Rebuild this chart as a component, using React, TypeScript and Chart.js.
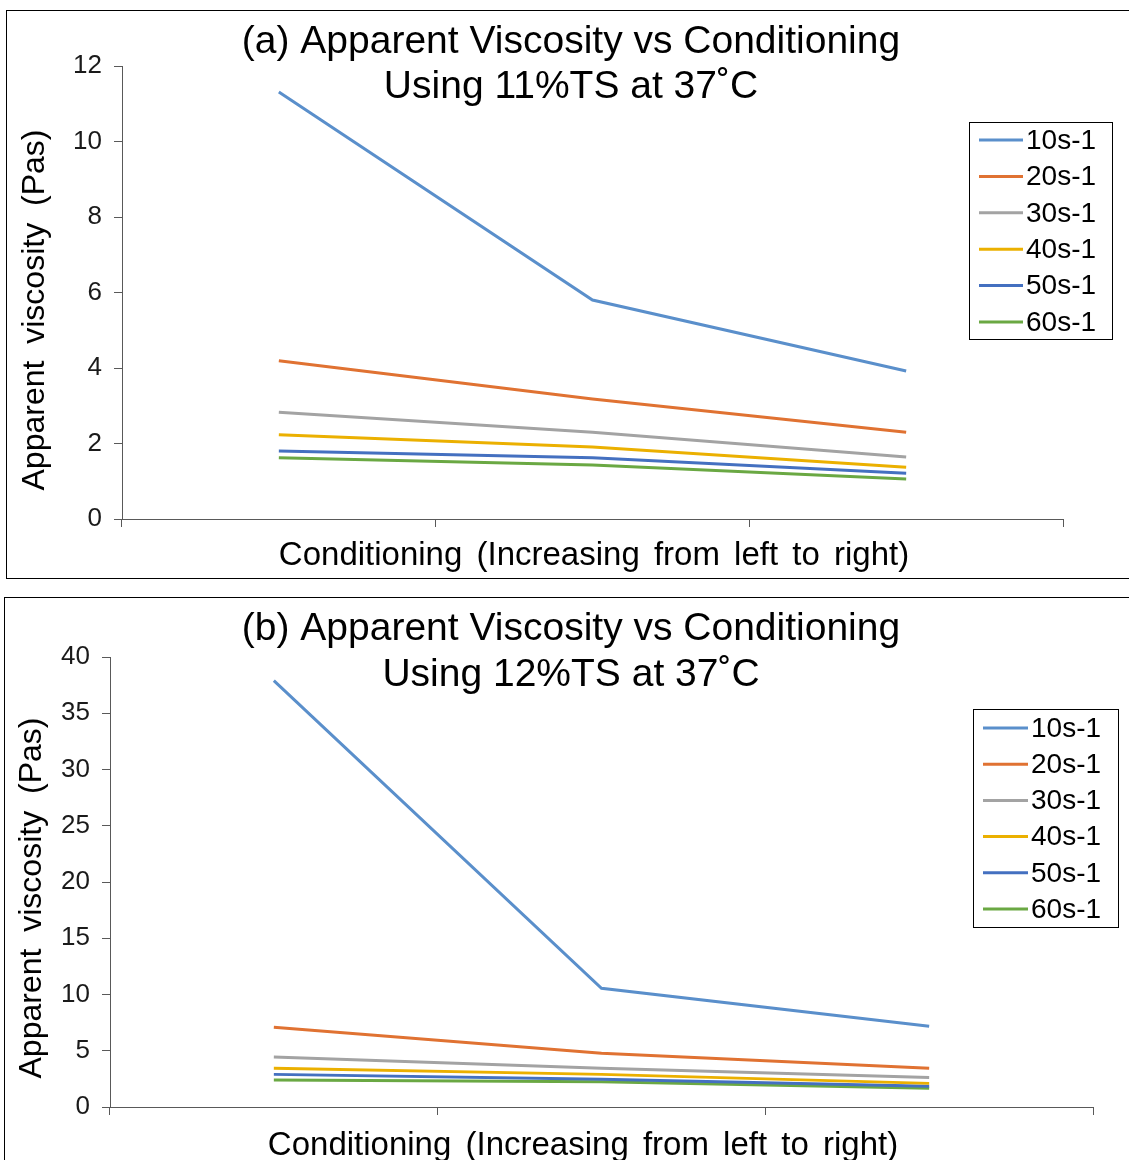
import { useEffect, useRef } from 'react';
import { Chart, registerables } from 'chart.js';

Chart.register(...registerables);

const FONT = '"Liberation Sans", Arial, "DejaVu Sans", sans-serif';

// ---- data ----
const conditioningStages = ['Stage 1', 'Stage 2', 'Stage 3'];
const shearRateLabels = ['10s-1', '20s-1', '30s-1', '40s-1', '50s-1', '60s-1'];
const seriesColors = ['#5A8FCB', '#E07232', '#A3A3A3', '#EBB000', '#4470C0', '#6AA843'];

// (a) 11% TS at 37°C
const ts11_10s = [11.31, 5.8, 3.92];
const ts11_20s = [4.19, 3.18, 2.3];
const ts11_30s = [2.83, 2.3, 1.64];
const ts11_40s = [2.23, 1.91, 1.37];
const ts11_50s = [1.8, 1.62, 1.21];
const ts11_60s = [1.62, 1.43, 1.06];

// (b) 12% TS at 37°C
const ts12_10s = [37.9, 10.55, 7.17];
const ts12_20s = [7.08, 4.77, 3.44];
const ts12_30s = [4.45, 3.44, 2.63];
const ts12_40s = [3.44, 2.9, 2.1];
const ts12_50s = [2.9, 2.46, 1.84];
const ts12_60s = [2.4, 2.25, 1.66];

const yTickValuesA = [0, 2, 4, 6, 8, 10, 12];
const yTickValuesB = [0, 5, 10, 15, 20, 25, 30, 35, 40];

const titleA = ['(a) Apparent Viscosity vs Conditioning', 'Using 11%TS at 37˚C'];
const titleB = ['(b) Apparent Viscosity vs Conditioning', 'Using 12%TS at 37˚C'];
const yAxisTitle = 'Apparent viscosity (Pas)';
const xAxisTitle = 'Conditioning (Increasing from left to right)';

// ---- layout specs ----
type PanelSpec = {
  title: string[];
  series: number[][];
  ticks: number[];
  box: { left: number; top: number; width: number; height: number };
  area: { left: number; top: number; right: number; bottom: number };
  titleX: number;
  titleY: number[];
  xTitleX: number;
  xTitleY: number;
  yTitleX: number;
  yTitleY: number;
  legend: { x: number; y: number; w: number; h: number; row0: number; rowStep: number; lineX0: number; lineX1: number; textX: number };
};

const panelA: PanelSpec = {
  title: titleA,
  series: [ts11_10s, ts11_20s, ts11_30s, ts11_40s, ts11_50s, ts11_60s],
  ticks: yTickValuesA,
  box: { left: 6, top: 10, width: 1125, height: 569 },
  area: { left: 115, top: 55, right: 1056, bottom: 508 },
  titleX: 564,
  titleY: [42, 87],
  xTitleX: 587,
  xTitleY: 554,
  yTitleX: 28,
  yTitleY: 299,
  legend: { x: 962.5, y: 111.5, w: 143, h: 217, row0: 129, rowStep: 36.4, lineX0: 972, lineX1: 1016, textX: 1019 },
};

const panelB: PanelSpec = {
  title: titleB,
  series: [ts12_10s, ts12_20s, ts12_30s, ts12_40s, ts12_50s, ts12_60s],
  ticks: yTickValuesB,
  box: { left: 4, top: 597, width: 1127, height: 569 },
  area: { left: 105, top: 59, right: 1088, bottom: 509 },
  titleX: 566,
  titleY: [42, 88],
  xTitleX: 578,
  xTitleY: 557,
  yTitleX: 27,
  yTitleY: 300,
  legend: { x: 968.5, y: 111.5, w: 145, h: 218, row0: 130, rowStep: 36.2, lineX0: 978, lineX1: 1023, textX: 1026 },
};

const AXIS_COLOR = '#595959';

function makeDecor(spec: PanelSpec) {
  return {
    id: 'panelDecor',
    afterDraw(chart: any) {
      const ctx: any = chart.ctx;
      ctx.save();
      ctx.fillStyle = '#000';
      // main title
      ctx.font = `39px ${FONT}`;
      ctx.textAlign = 'center';
      ctx.textBaseline = 'alphabetic';
      spec.title.forEach((t, i) => ctx.fillText(t, spec.titleX, spec.titleY[i]));
      // x axis title
      ctx.font = `33px ${FONT}`;
      ctx.wordSpacing = '5px';
      ctx.fillText(xAxisTitle, spec.xTitleX, spec.xTitleY);
      // y axis title
      ctx.save();
      ctx.translate(spec.yTitleX, spec.yTitleY);
      ctx.rotate(-Math.PI / 2);
      ctx.textBaseline = 'middle';
      ctx.font = `32px ${FONT}`;
      ctx.wordSpacing = '8px';
      ctx.fillText(yAxisTitle, 0, 0);
      ctx.restore();
      ctx.wordSpacing = '0px';
      // legend
      const lg = spec.legend;
      ctx.fillStyle = '#fff';
      ctx.fillRect(lg.x, lg.y, lg.w, lg.h);
      ctx.strokeStyle = '#000';
      ctx.lineWidth = 1;
      ctx.strokeRect(lg.x, lg.y, lg.w, lg.h);
      ctx.font = `28px ${FONT}`;
      ctx.textAlign = 'left';
      ctx.textBaseline = 'middle';
      chart.data.datasets.forEach((ds: any, i: number) => {
        const y = lg.row0 + i * lg.rowStep;
        ctx.strokeStyle = ds.borderColor;
        ctx.lineWidth = 3;
        ctx.beginPath();
        ctx.moveTo(lg.lineX0, y);
        ctx.lineTo(lg.lineX1, y);
        ctx.stroke();
        ctx.fillStyle = '#000';
        ctx.fillText(ds.label, lg.textX, y + 1);
      });
      ctx.restore();
    },
  };
}

function Panel({ spec }: { spec: PanelSpec }) {
  const ref = useRef<HTMLCanvasElement>(null);
  const cw = spec.box.width - 2;
  const ch = spec.box.height - 2;
  useEffect(() => {
    if (!ref.current) return;
    const a = spec.area;
    const chart = new Chart(ref.current, {
      type: 'line',
      data: {
        labels: conditioningStages,
        datasets: shearRateLabels.map((label, i) => ({
          label,
          data: spec.series[i],
          borderColor: seriesColors[i],
          backgroundColor: seriesColors[i],
          borderWidth: 3,
          pointRadius: 0,
          pointHoverRadius: 0,
          tension: 0,
          fill: false,
        })),
      },
      options: {
        animation: false,
        responsive: false,
        devicePixelRatio: 1,
        events: [],
        layout: { padding: { left: 0, top: a.top, right: cw - a.right, bottom: 0 } },
        plugins: { legend: { display: false }, title: { display: false }, tooltip: { enabled: false } },
        scales: {
          x: {
            type: 'category',
            offset: true,
            grid: { display: true, drawOnChartArea: false, drawTicks: true, tickLength: 8, offset: true, color: AXIS_COLOR, lineWidth: 1 },
            border: { display: true, color: AXIS_COLOR, width: 1 },
            ticks: { display: false },
            afterFit: (scale: any) => {
              scale.height = ch - a.bottom;
            },
          },
          y: {
            type: 'linear',
            min: spec.ticks[0],
            max: spec.ticks[spec.ticks.length - 1],
            afterBuildTicks: (scale: any) => {
              scale.ticks = spec.ticks.map((v) => ({ value: v }));
            },
            grid: { display: true, drawOnChartArea: false, drawTicks: true, tickLength: 8, color: AXIS_COLOR, lineWidth: 1 },
            border: { display: true, color: AXIS_COLOR, width: 1 },
            ticks: { color: '#1a1a1a', font: { family: FONT, size: 26 }, padding: 12 },
            afterFit: (scale: any) => {
              scale.width = a.left;
            },
          },
        },
      },
      plugins: [makeDecor(spec)],
    } as any);
    return () => chart.destroy();
  }, []);
  return (
    <div
      style={{
        position: 'absolute',
        left: spec.box.left,
        top: spec.box.top,
        width: spec.box.width,
        height: spec.box.height,
        border: '1px solid #000',
        boxSizing: 'border-box',
        background: '#fff',
      }}
    >
      <canvas ref={ref} width={cw} height={ch} style={{ display: 'block', width: cw, height: ch }} />
    </div>
  );
}

export default function App() {
  return (
    <div
      style={{
        position: 'fixed',
        left: 0,
        top: 0,
        width: 1129,
        height: 1160,
        overflow: 'hidden',
        background: '#fff',
      }}
    >
      <Panel spec={panelA} />
      <Panel spec={panelB} />
    </div>
  );
}
